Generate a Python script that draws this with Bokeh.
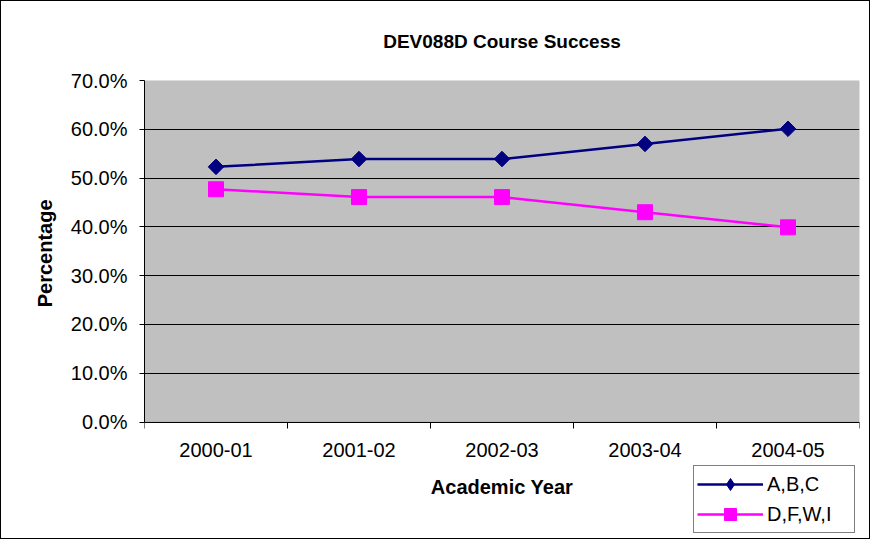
import math
from bokeh.plotting import figure
from bokeh.models import (ColumnDataSource, Range1d, FixedTicker, NumeralTickFormatter,
                          Legend, LegendItem, BoxAnnotation, Title)
from bokeh.embed import file_html
from bokeh.resources import INLINE

years = ["2000-01", "2001-02", "2002-03", "2003-04", "2004-05"]
abc = [0.523, 0.539, 0.539, 0.570, 0.601]
dfwi = [0.477, 0.461, 0.461, 0.430, 0.399]
y_ticks = [0.0, 0.1, 0.2, 0.3, 0.4, 0.5, 0.6, 0.7]

Y_MAX = 0.7
X_MAX = len(years)

# layout (pixels)
W, H = 870, 539
LEFT, RIGHT_PAD, TOP = 144, 11, 80
AREA_H = 341.5               # height of the grey plot area
BELOW = H - TOP - AREA_H     # frame part below y = 0 (axis texts + legend)
Y_MIN = -Y_MAX * BELOW / AREA_H

xpos = [i + 0.5 for i in range(len(years))]
src = ColumnDataSource(dict(x=xpos, abc=abc, dfwi=dfwi))

FONT = "Liberation Sans"

p = figure(width=W, height=H, output_backend="svg", toolbar_location=None,
           x_range=Range1d(0, X_MAX), y_range=Range1d(Y_MIN, Y_MAX),
           min_border_left=LEFT, min_border_right=RIGHT_PAD, min_border_top=TOP,
           min_border_bottom=0)
p.background_fill_alpha = 0
p.border_fill_alpha = 0
p.outline_line_color = None
p.styles = {"background-color": "white", "box-shadow": "inset 0 0 0 1px black"}

p.title.text = "DEV088D Course Success"
p.title.text_font = FONT
p.title.text_font_size = "19px"
p.title.text_font_style = "bold"
p.title.text_color = "black"
p.title.align = "center"
p.title.standoff = 57

# grey plot area
area = BoxAnnotation(left=0, right=X_MAX, bottom=0, top=Y_MAX, fill_color="#C0C0C0",
                     fill_alpha=1, line_color="#808080", line_width=1, level="image")
p.add_layout(area)

# grid
p.xgrid.grid_line_color = None
p.ygrid.grid_line_color = "black"
p.ygrid.grid_line_width = 1
p.ygrid.ticker = FixedTicker(ticks=y_ticks)

# y axis
p.yaxis.ticker = FixedTicker(ticks=y_ticks)
p.yaxis.bounds = (0, Y_MAX)
p.yaxis.formatter = NumeralTickFormatter(format="0.0%")
p.yaxis.axis_line_color = "black"
p.yaxis.major_tick_out = 5
p.yaxis.major_tick_in = 0
p.yaxis.minor_tick_line_color = None
p.yaxis.major_label_text_font = FONT
p.yaxis.major_label_text_font_size = "20px"
p.yaxis.major_label_text_color = "black"
p.yaxis.major_label_standoff = 12

# y axis title, placed along the grey plot area
ytitle = Title(text="Percentage", align="right", offset=119, standoff=24,
               text_font=FONT, text_font_size="20px", text_font_style="bold",
               text_color="black")
p.add_layout(ytitle, "left")

# x axis at y = 0: labels at category centres, ticks at category boundaries
p.xaxis.fixed_location = 0
p.xaxis.ticker = FixedTicker(ticks=xpos, minor_ticks=list(range(X_MAX + 1)))
p.xaxis.major_label_overrides = {x: y for x, y in zip(xpos, years)}
p.xaxis.axis_line_color = "black"
p.xaxis.major_tick_out = 0
p.xaxis.major_tick_in = 0
p.xaxis.minor_tick_out = 6
p.xaxis.minor_tick_in = 0
p.xaxis.minor_tick_line_color = "black"
p.xaxis.major_label_text_font = FONT
p.xaxis.major_label_text_font_size = "20px"
p.xaxis.major_label_text_color = "black"
p.xaxis.major_label_standoff = 15
p.xaxis.axis_label = "Academic Year"
p.xaxis.axis_label_text_font = FONT
p.xaxis.axis_label_text_font_size = "20px"
p.xaxis.axis_label_text_font_style = "bold"
p.xaxis.axis_label_text_color = "black"
p.xaxis.axis_label_standoff = 15

l1 = p.line("x", "abc", source=src, line_color="#000080", line_width=2.5)
m1 = p.scatter("x", "abc", source=src, marker="square", angle=math.pi / 4, size=11,
               fill_color="#000080", line_color="#000080")
l2 = p.line("x", "dfwi", source=src, line_color="#FF00FF", line_width=2.5)
m2 = p.scatter("x", "dfwi", source=src, marker="square", size=15,
               fill_color="#FF00FF", line_color="#FF00FF")

# legend key for the diamond series (legend keys are never rotated)
k1 = p.scatter("x", "abc", source=src, marker="diamond", visible=False,
               fill_color="#000080", line_color="#000080")

legend = Legend(items=[LegendItem(label="A,B,C", renderers=[l1, k1]),
                       LegendItem(label="D,F,W,I", renderers=[l2, m2])],
                location=(549, 6), orientation="vertical",
                border_line_color="black", border_line_width=1,
                background_fill_color="white", background_fill_alpha=1,
                inactive_fill_alpha=0,
                label_text_font=FONT, label_text_font_size="20px",
                label_text_color="black",
                glyph_width=66, glyph_height=30, label_height=24,
                label_standoff=4, label_width=84, padding=3, spacing=0, margin=0)
p.add_layout(legend, "center")

open("out.html", "w").write(file_html(p, INLINE))
